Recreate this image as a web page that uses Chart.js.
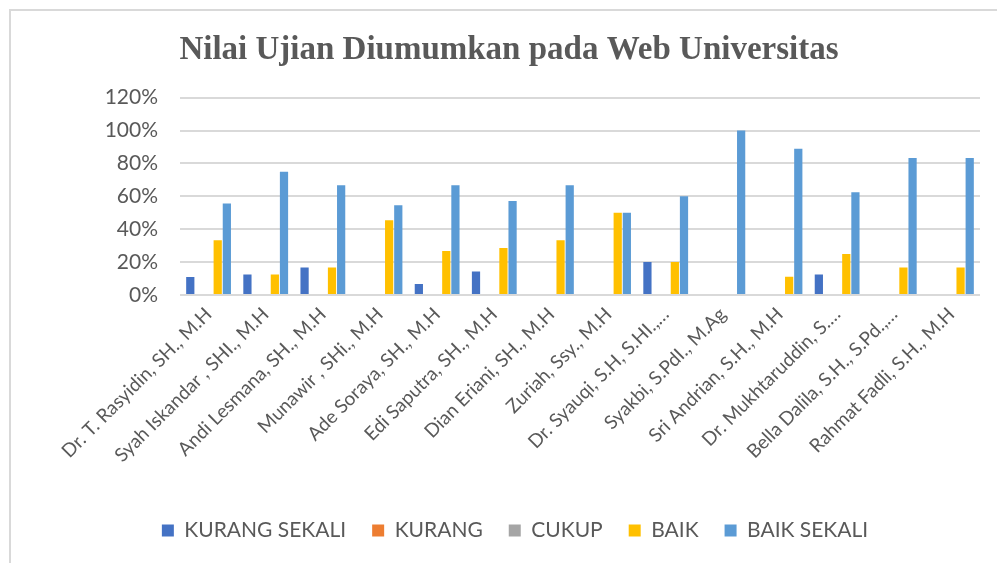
<!DOCTYPE html>
<html>
<head>
<meta charset="utf-8">
<script src="https://cdn.jsdelivr.net/npm/chart.js@4"></script>
<style>
  html, body { margin: 0; padding: 0; background: #fff; }
  #wrap { position: relative; width: 997px; height: 563px; }
  #frame { position: absolute; left: 9px; top: 9px; right: -2px; bottom: -2px; border-left: 2px solid #d9d9d9; border-top: 2px solid #d9d9d9; pointer-events: none; }
  canvas { display: block; }
</style>
</head>
<body>
<div id="wrap">
  <canvas id="c" width="997" height="563"></canvas>
  <div id="frame"></div>
</div>
<script>
const categories = [
  "Dr. T. Rasyidin, SH., M.H",
  "Syah Iskandar , SHI., M.H",
  "Andi Lesmana, SH., M.H",
  "Munawir , SHi., M.H",
  "Ade Soraya, SH., M.H",
  "Edi Saputra, SH., M.H",
  "Dian Eriani, SH., M.H",
  "Zuriah, Ssy., M.H",
  "Dr. Syauqi, S.H, S.HI.,…",
  "Syakbi, S.PdI., M.Ag",
  "Sri Andrian, S.H., M.H",
  "Dr. Mukhtaruddin, S.…",
  "Bella Dalila, S.H., S.Pd.,…",
  "Rahmat Fadli, S.H., M.H"
];
const seriesNames = ["KURANG SEKALI", "KURANG", "CUKUP", "BAIK", "BAIK SEKALI"];
const kurangSekali = [11, 12.5, 16.7, 0, 6.7, 14.3, 0, 0, 20, 0, 0, 12.5, 0, 0];
const kurang       = [0, 0, 0, 0, 0, 0, 0, 0, 0, 0, 0, 0, 0, 0];
const cukup        = [0, 0, 0, 0, 0, 0, 0, 0, 0, 0, 0, 0, 0, 0];
const baik         = [33.3, 12.5, 16.7, 45.5, 26.7, 28.6, 33.3, 50, 20, 0, 11.1, 25, 16.7, 16.7];
const baikSekali   = [55.6, 75, 66.7, 54.5, 66.7, 57.1, 66.7, 50, 60, 100, 88.9, 62.5, 83.3, 83.3];
const yTicks = [0, 20, 40, 60, 80, 100, 120];

const colors = ["#4472C4", "#ED7D31", "#A5A5A5", "#FFC000", "#5B9BD5"];
const seriesData = [kurangSekali, kurang, cukup, baik, baikSekali];

const textColor = "#595959";
const sansFont = "Lato, 'Noto Sans', sans-serif";

const shiftBlocks = {
  id: "shiftBlocks",
  afterLayout(chart) {
    if (chart.titleBlock) { chart.titleBlock.left += 26; }
    if (chart.legend) { chart.legend.left += 38; }
  }
};

new Chart(document.getElementById("c"), {
  type: "bar",
  data: {
    labels: categories,
    datasets: seriesNames.map((name, i) => ({
      label: name,
      data: seriesData[i],
      backgroundColor: colors[i],
      borderWidth: 0,
      categoryPercentage: 0.8,
      barPercentage: 0.9
    }))
  },
  plugins: [shiftBlocks],
  options: {
    responsive: false,
    animation: false,
    layout: { padding: { top: 12, left: 12, right: 17, bottom: 12 } },
    plugins: {
      title: {
        display: true,
        text: "Nilai Ujian Diumumkan pada Web Universitas",
        color: textColor,
        font: { family: "'Liberation Serif', 'Times New Roman', serif", size: 33, weight: "bold" },
        padding: { top: 19, bottom: 27 }
      },
      legend: {
        position: "bottom",
        labels: {
          color: textColor,
          font: { family: sansFont, size: 21 },
          boxWidth: 12,
          boxHeight: 12,
          padding: 26
        }
      },
      tooltip: { enabled: false }
    },
    scales: {
      x: {
        grid: { display: false, drawTicks: false },
        border: { display: false },
        ticks: {
          color: textColor,
          font: { family: sansFont, size: 19 },
          minRotation: 45,
          maxRotation: 45,
          autoSkip: false,
          padding: 8
        },
        afterFit: (s) => { s.height = 199; }
      },
      y: {
        min: 0,
        max: 120,
        afterBuildTicks: (s) => { s.ticks = yTicks.map(v => ({ value: v })); },
        grid: { color: "#d9d9d9", lineWidth: 2, drawTicks: false },
        border: { display: false },
        ticks: {
          color: textColor,
          font: { family: sansFont, size: 21 },
          padding: 22,
          callback: (v) => v + "%"
        },
        afterFit: (s) => { s.width = 168; }
      }
    }
  }
});
</script>
</body>
</html>
